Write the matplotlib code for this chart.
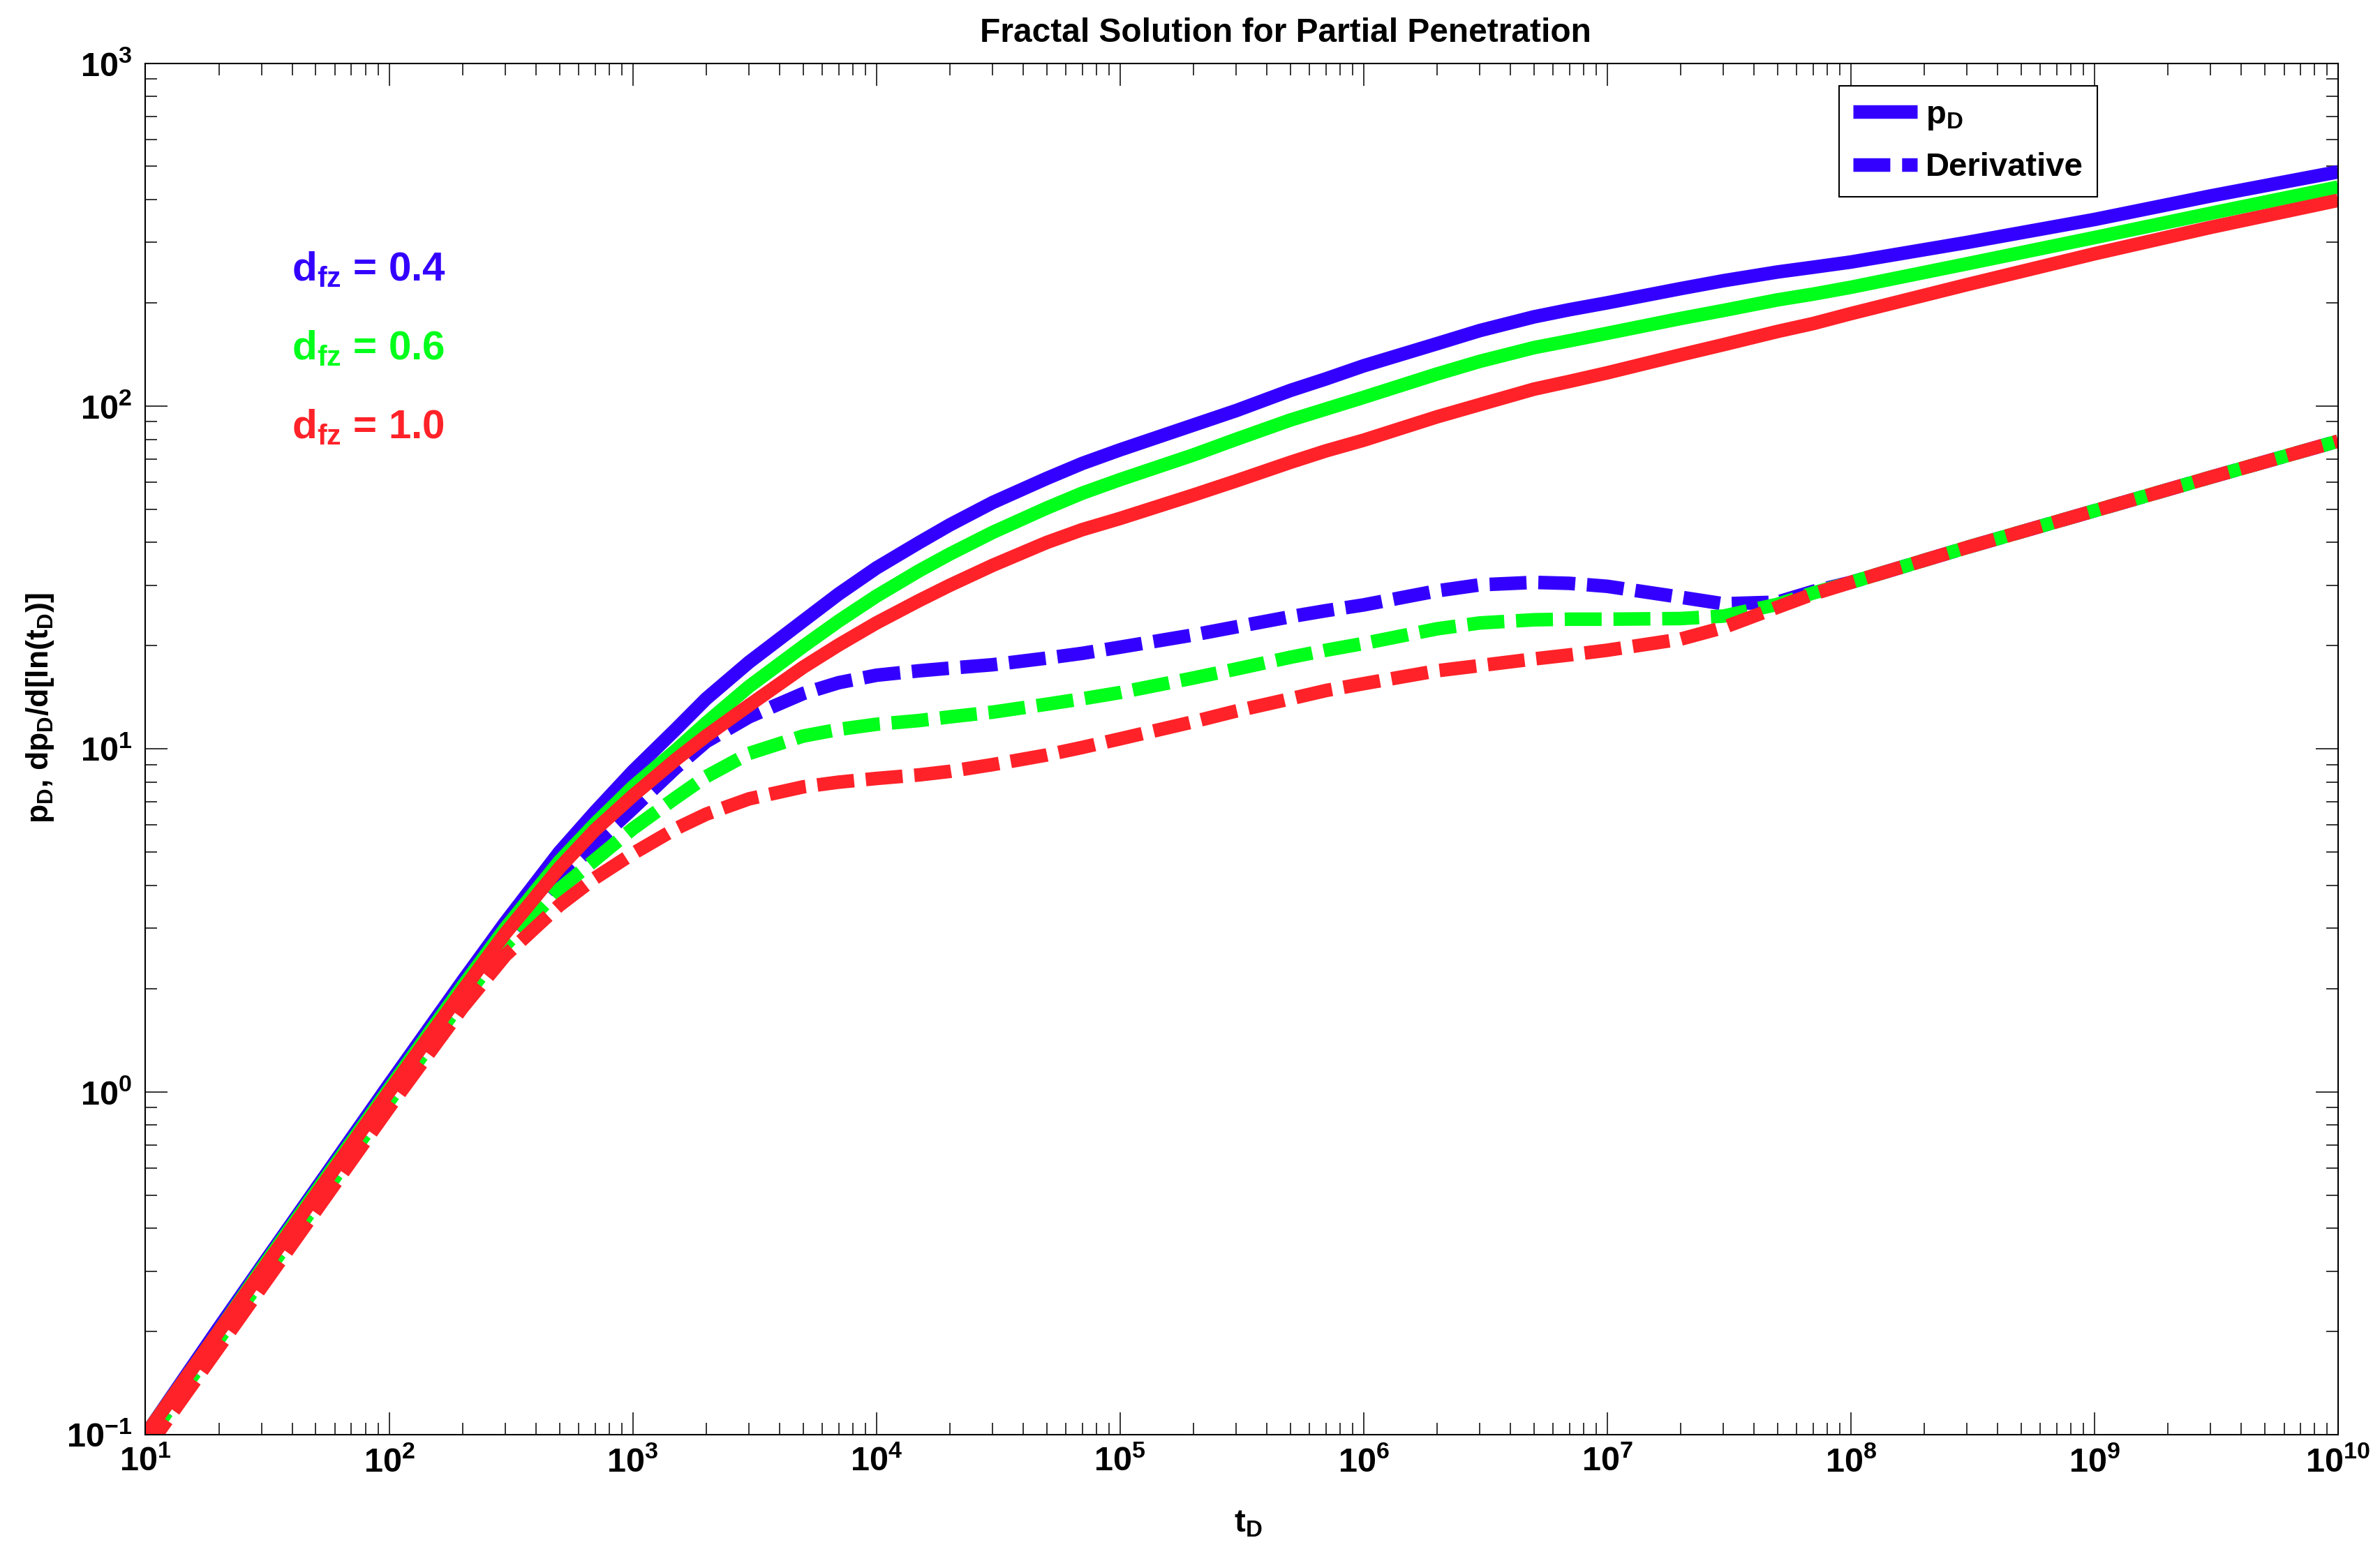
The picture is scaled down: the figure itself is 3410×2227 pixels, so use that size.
import numpy as np
import matplotlib
matplotlib.use("Agg")
import matplotlib.pyplot as plt
from matplotlib.ticker import LogLocator, FuncFormatter, NullFormatter
from matplotlib.lines import Line2D

plt.rcParams['font.family'] = ['Liberation Sans', 'DejaVu Sans']
plt.rcParams['font.weight'] = 'bold'
plt.rcParams['mathtext.fontset'] = 'custom'
plt.rcParams['mathtext.rm'] = 'Liberation Sans:bold'
plt.rcParams['mathtext.it'] = 'Liberation Sans:bold'
plt.rcParams['mathtext.bf'] = 'Liberation Sans:bold'
plt.rcParams['mathtext.sf'] = 'Liberation Sans:bold'

# ---------------- data ----------------
tD = [10, 20, 30, 50, 100, 200, 300, 500, 700, 1e3, 1.5e3, 2e3, 3e3, 5e3, 7e3,
      1e4, 1.5e4, 2e4, 3e4, 5e4, 7e4, 1e5, 2e5, 3e5, 5e5, 7e5, 1e6, 2e6, 3e6,
      5e6, 7e6, 1e7, 2e7, 3e7, 5e7, 7e7, 1e8, 3e8, 1e9, 3e9, 1e10]

pD_04 = [0.10, 0.205, 0.31, 0.52, 1.05, 2.1, 3.12, 5.0, 6.55, 8.6, 11.4, 14.0,
         17.9, 23.6, 28.3, 33.7, 40.0, 45.0, 52.3, 61.5, 68, 74.5, 88, 97, 111,
         120, 131, 152, 166, 182, 191, 200, 220, 232, 246, 254, 263, 300, 350,
         410, 482]
pD_06 = [0.10, 0.20, 0.305, 0.51, 1.02, 2.03, 3.0, 4.7, 6.05, 7.75, 9.9, 11.9,
         15.2, 19.9, 23.6, 27.9, 33.1, 37.0, 42.8, 50.4, 55.7, 61, 72, 80, 91,
         98, 106, 124, 135, 148, 155, 163, 180, 190, 204, 212, 222, 260, 310,
         365, 435]
pD_10 = [0.10, 0.20, 0.30, 0.50, 1.0, 1.97, 2.9, 4.5, 5.8, 7.3, 9.3, 10.9,
         13.4, 17.3, 20.1, 23.3, 27.1, 30.0, 34.3, 40.0, 43.6, 47, 55, 60.5,
         68.5, 74, 79.5, 93, 101, 112, 118, 125, 141, 151, 165, 174, 186, 226,
         278, 332, 398]

dpD_04 = [0.095, 0.195, 0.29, 0.485, 0.97, 1.92, 2.8, 4.2, 5.3, 6.7, 8.8, 10.5,
          12.4, 14.5, 15.6, 16.4, 16.9, 17.2, 17.6, 18.4, 19.0, 19.8, 21.5,
          22.7, 24.3, 25.3, 26.3, 28.9, 30.1, 30.6, 30.4, 29.8, 27.7, 26.5,
          26.8, 28.8, 30.6, 38.7, 49.5, 62, 79]
dpD_06 = [0.095, 0.19, 0.285, 0.47, 0.94, 1.85, 2.68, 3.9, 4.75, 5.85, 7.2, 8.3,
          9.7, 10.9, 11.4, 11.8, 12.1, 12.4, 12.8, 13.5, 14.0, 14.6, 16.1, 17.1,
          18.5, 19.4, 20.3, 22.4, 23.3, 23.8, 23.9, 23.9, 24.0, 24.4, 26.4,
          28.5, 30.6, 38.7, 49.5, 62, 79]
dpD_10 = [0.09, 0.18, 0.27, 0.45, 0.9, 1.76, 2.5, 3.5, 4.2, 4.95, 5.85, 6.45,
          7.15, 7.75, 8.0, 8.2, 8.4, 8.6, 9.0, 9.6, 10.1, 10.7, 12.0, 12.9,
          14.0, 14.8, 15.5, 16.9, 17.5, 18.3, 18.8, 19.4, 20.9, 22.6, 25.9,
          28.3, 30.6, 38.7, 49.5, 62, 79]

series_labels = ['0.4', '0.6', '1.0']
colors = ['#3300ff', '#00ff1a', '#ff2228']

# ---------------- figure ----------------
fig = plt.figure(figsize=(34.1, 22.27), dpi=100)
ax = fig.add_axes([0.06114, 0.07678, 0.92126, 0.88258])

lw = 14
dash = (2.72, 0.87)
pds = [pD_04, pD_06, pD_10]
dps = [dpD_04, dpD_06, dpD_10]
for p, d, c in zip(pds, dps, colors):
    ax.plot(tD, p, color=c, lw=lw, solid_capstyle='butt', solid_joinstyle='round')
    ax.plot(tD, d, color=c, lw=lw, dashes=dash, dash_capstyle='butt',
            dash_joinstyle='round')

ax.set_xscale('log')
ax.set_yscale('log')
ax.set_xlim(10, 1e10)
ax.set_ylim(0.1, 1000)

fmt = FuncFormatter(lambda v, pos: r'$\mathbf{10^{%d}}$' % int(round(np.log10(v))))
ax.xaxis.set_major_locator(LogLocator(base=10, numticks=30))
ax.yaxis.set_major_locator(LogLocator(base=10, numticks=30))
ax.xaxis.set_minor_locator(LogLocator(base=10, subs=np.arange(2, 10), numticks=300))
ax.yaxis.set_minor_locator(LogLocator(base=10, subs=np.arange(2, 10), numticks=300))
ax.xaxis.set_major_formatter(fmt)
ax.yaxis.set_major_formatter(fmt)
ax.xaxis.set_minor_formatter(NullFormatter())
ax.yaxis.set_minor_formatter(NullFormatter())

ax.tick_params(which='both', direction='in', top=True, right=True, width=1.1,
               labelsize=35)
ax.tick_params(which='major', length=23)
ax.tick_params(which='minor', length=12.5)
ax.tick_params(axis='x', which='major', pad=12)
ax.tick_params(axis='y', which='major', pad=14)
for s in ax.spines.values():
    s.set_linewidth(1.5)

ttl = ax.set_title('Fractal Solution for Partial Penetration', fontsize=34.5,
                   fontweight='bold', pad=22)
ttl.set_x(0.52)
xl = ax.set_xlabel('t$_D$', fontsize=34, fontweight='bold')
ax.xaxis.set_label_coords(0.503, -0.0712)
xl.set_va('baseline')
yl = ax.set_ylabel('p$_D$, dp$_D$/d[ln(t$_D$)]', fontsize=32, fontweight='bold')
ax.yaxis.set_label_coords(-0.048, 0.53)
yl.set_va('center')

# annotations
ann_x = 39.8
ann_y = [232, 137, 80.5]
for lab, c, yv in zip(series_labels, colors, ann_y):
    ax.text(ann_x, yv, 'd$_{fz}$ = ' + lab, color=c, fontsize=42,
            fontweight='bold', va='baseline', ha='left')

handles = [Line2D([], [], color=colors[0], lw=lw, solid_capstyle='butt'),
           Line2D([], [], color=colors[0], lw=lw, dashes=dash, dash_capstyle='butt')]
leg = ax.legend(handles, ['p$_D$', 'Derivative'], loc='upper left',
                bbox_to_anchor=(0.7725, 0.9835), fontsize=34, frameon=True,
                fancybox=False, edgecolor='black', framealpha=1,
                handlelength=1.95, handletextpad=0.25, borderpad=0.42,
                labelspacing=0.62, borderaxespad=0)
leg.get_frame().set_linewidth(1.5)
for t in leg.get_texts():
    t.set_fontweight('bold')

fig.savefig('out.png', dpi=100, facecolor='white')
